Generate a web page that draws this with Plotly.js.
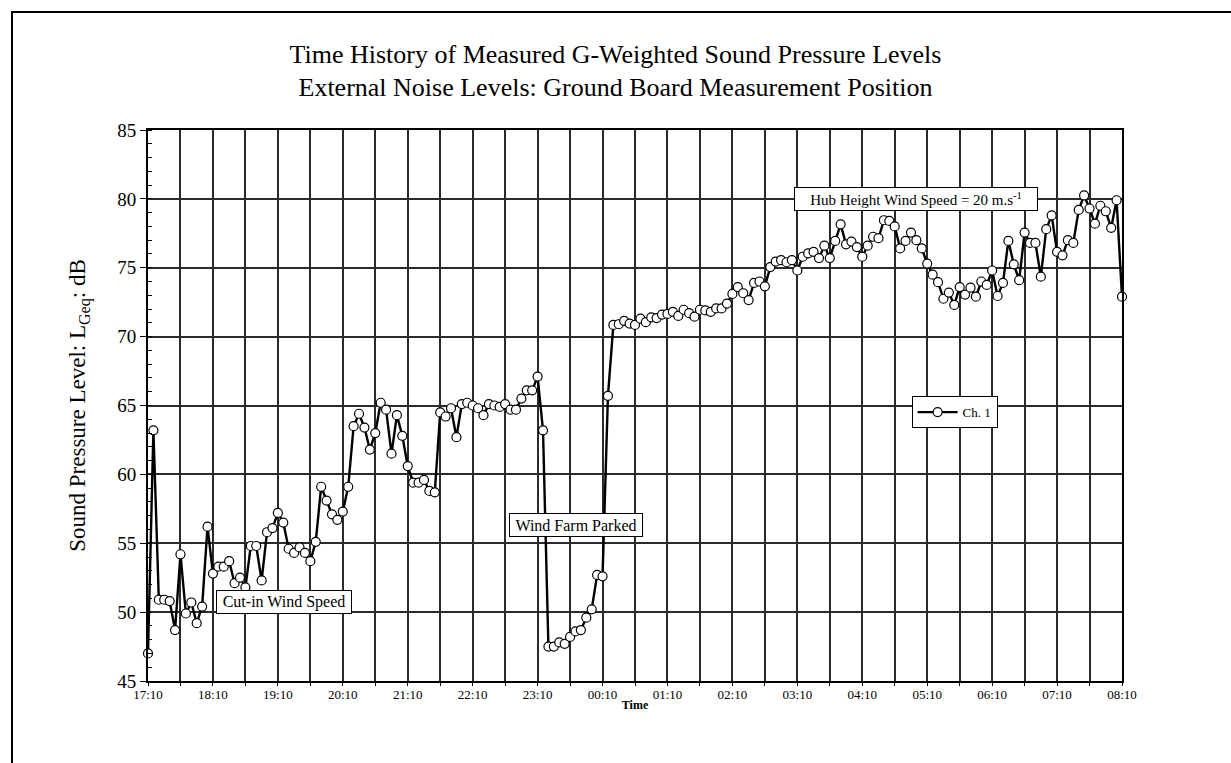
<!DOCTYPE html>
<html>
<head>
<meta charset="utf-8">
<script src="https://cdn.plot.ly/plotly-3.0.1.min.js"></script>
<style>
  html, body { margin: 0; padding: 0; background: #fff; }
  #chart { width: 1231px; height: 763px; }
  #frame { position: absolute; left: 11px; top: 11px; width: 1300px; height: 800px;
           border-top: 2px solid #000; border-left: 2px solid #000; pointer-events: none; }
</style>
</head>
<body>
<div id="chart"></div>
<div id="frame"></div>
<script>
// Tick labels (one per hour, from 17:10 to 08:10)
const tickLabels = ['17:10','18:10','19:10','20:10','21:10','22:10','23:10','00:10',
                    '01:10','02:10','03:10','04:10','05:10','06:10','07:10','08:10'];
const sampleMinutes = 5; // one reading every 5 minutes from 17:10

// Ch. 1 : LGeq readings (dB)
const ch1 = [
  47.0, 63.2, 50.9, 50.9, 50.8, 48.7, 54.2, 49.9, 50.7, 49.2,
  50.4, 56.2, 52.8, 53.3, 53.3, 53.7, 52.1, 52.5, 51.8, 54.8,
  54.8, 52.3, 55.8, 56.1, 57.2, 56.5, 54.6, 54.3, 54.7, 54.3,
  53.7, 55.1, 59.1, 58.1, 57.1, 56.7, 57.3, 59.1, 63.5, 64.4,
  63.4, 61.8, 63.0, 65.2, 64.7, 61.5, 64.3, 62.8, 60.6, 59.4,
  59.4, 59.6, 58.8, 58.7, 64.5, 64.2, 64.8, 62.7, 65.1, 65.2,
  65.0, 64.8, 64.3, 65.1, 65.0, 64.9, 65.1, 64.7, 64.7, 65.5,
  66.1, 66.1, 67.1, 63.2, 47.5, 47.5, 47.8, 47.7, 48.2, 48.6,
  48.7, 49.6, 50.2, 52.7, 52.6, 65.7, 70.85, 70.9, 71.15, 70.95,
  70.85, 71.3, 71.05, 71.4, 71.35, 71.6, 71.65, 71.8, 71.5, 71.95,
  71.7, 71.45, 71.95, 71.9, 71.8, 72.05, 72.05, 72.4, 73.1, 73.6,
  73.15, 72.65, 73.9, 74.0, 73.65, 75.05, 75.45, 75.55, 75.4, 75.55,
  74.8, 75.8, 76.05, 76.15, 75.7, 76.6, 75.7, 76.95, 78.15, 76.7,
  76.9, 76.5, 75.8, 76.6, 77.25, 77.15, 78.45, 78.4, 78.0, 76.4,
  76.95, 77.55, 77.0, 76.4, 75.3, 74.5, 73.95, 72.75, 73.2, 72.3,
  73.6, 73.05, 73.55, 72.9, 74.0, 73.75, 74.8, 72.95, 73.9, 76.95,
  75.25, 74.1, 77.55, 76.8, 76.8, 74.35, 77.8, 78.8, 76.15, 75.9,
  77.0, 76.8, 79.2, 80.25, 79.3, 78.2, 79.5, 79.1, 77.9, 79.9,
  72.9
];

const hours = ch1.map((_, i) => i * sampleMinutes / 60);
const tickPos = tickLabels.map((_, i) => i);

const serif = "'Liberation Serif', 'Times New Roman', Times, serif";
const gridCol = '#2b2b2b';
const gridW = 2;

const trace = {
  x: hours, y: ch1, name: 'Ch. 1', type: 'scatter', mode: 'lines+markers',
  line: { color: '#000', width: 2.4 },
  marker: { symbol: 'circle', size: 9, color: '#fff', line: { color: '#000', width: 1.2 } },
  cliponaxis: false
};

const layout = {
  width: 1231, height: 763,
  margin: { l: 148, r: 109, t: 130, b: 82 },
  paper_bgcolor: '#fff', plot_bgcolor: '#fff',
  font: { family: serif, color: '#000' },
  title: {
    text: 'Time History of Measured G-Weighted Sound Pressure Levels<br>External Noise Levels: Ground Board Measurement Position',
    font: { family: serif, size: 26, color: '#000' },
    x: 0.5, xref: 'container', y: 0.918, yanchor: 'top'
  },
  xaxis: {
    range: [0, 15], tickmode: 'array', tickvals: tickPos, ticktext: tickLabels,
    tickfont: { family: serif, size: 13 },
    showgrid: true, gridcolor: gridCol, gridwidth: gridW,
    ticks: 'outside', ticklen: 3, tickcolor: '#000', ticklabelstandoff: -3,
    minor: { tickmode: 'linear', tick0: 0, dtick: 0.5, showgrid: true, gridcolor: gridCol, gridwidth: gridW,
             ticks: 'outside', ticklen: 3, tickcolor: '#000' },
    showline: true, linecolor: '#000', linewidth: 2, mirror: true, zeroline: false,
    title: { text: '<b>Time</b>', font: { family: serif, size: 12 }, standoff: 0 }
  },
  yaxis: {
    range: [45, 85], tickmode: 'linear', tick0: 45, dtick: 5,
    tickfont: { family: serif, size: 19 },
    showgrid: true, gridcolor: gridCol, gridwidth: gridW,
    ticks: 'outside', ticklen: 6, tickcolor: '#000',
    minor: { tickmode: 'linear', tick0: 45, dtick: 1, ticks: 'inside', ticklen: 4, tickcolor: '#000', showgrid: false },
    showline: true, linecolor: '#000', linewidth: 2, mirror: true, zeroline: false,
    title: { text: 'Sound Pressure Level: L<sub>Geq</sub>: dB', font: { family: serif, size: 23 }, standoff: 25 }
  },
  showlegend: true,
  legend: {
    x: 0.784, y: 0.517, xanchor: 'left', yanchor: 'top',
    bgcolor: '#fff', bordercolor: '#000', borderwidth: 1,
    font: { family: serif, size: 13 }, itemwidth: 40
  },
  annotations: [
    { x: 2.095, y: 50.70, xref: 'x', yref: 'y', text: 'Cut-in Wind Speed', showarrow: false,
      width: 134, height: 22, borderpad: 0, bgcolor: '#fff', bordercolor: '#000', borderwidth: 1,
      font: { family: serif, size: 16 } },
    { x: 6.596, y: 56.36, xref: 'x', yref: 'y', text: 'Wind Farm Parked', showarrow: false,
      width: 132, height: 22, borderpad: 0, bgcolor: '#fff', bordercolor: '#000', borderwidth: 1,
      font: { family: serif, size: 16 } },
    { x: 11.828, y: 79.99, xref: 'x', yref: 'y', text: 'Hub Height Wind Speed = 20 m.s<sup>-1</sup>', showarrow: false,
      width: 242, height: 22, borderpad: 0, bgcolor: '#fff', bordercolor: '#000', borderwidth: 1,
      font: { family: serif, size: 15 } }
  ]
};

Plotly.newPlot('chart', [trace], layout, { displayModeBar: false, staticPlot: true });
</script>
</body>
</html>
